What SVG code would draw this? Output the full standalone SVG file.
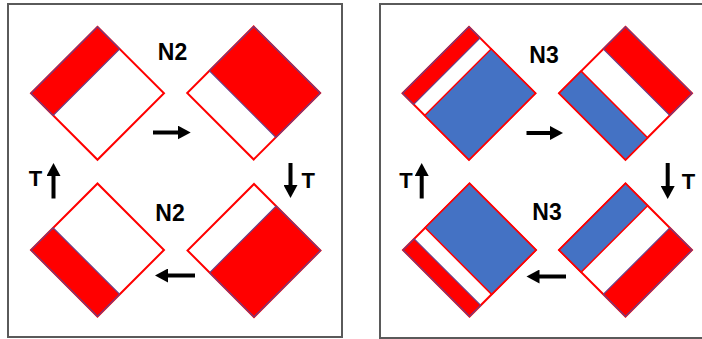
<svg xmlns="http://www.w3.org/2000/svg" width="702" height="339" viewBox="0 0 702 339">
<style>
.frame{fill:#fff;stroke:#5a5a5a;stroke-width:2}
.w{fill:#fff;stroke:#ff0000;stroke-width:2}
.r{fill:#ff0000;stroke:#6b3f86;stroke-width:1.2}
.b{fill:#4472c4;stroke:#ff0000;stroke-width:1.5}
.lbl{font-family:"Liberation Sans",Arial,sans-serif;font-weight:bold;fill:#000;text-anchor:middle}
.arr{stroke:#000;stroke-width:4;fill:none;marker-end:url(#ah)}
</style>
<defs>
<marker id="ah" markerUnits="userSpaceOnUse" markerWidth="14" markerHeight="14" refX="5" refY="7" orient="auto"><path d="M0,0 L13,7 L0,14 Z" fill="#000"/></marker>
</defs>
<rect width="702" height="339" fill="#fff"/>
<rect id="panel-left" class="frame" x="8" y="4" width="334" height="333"/>
<rect id="panel-right" class="frame" x="380" y="4" width="330" height="334"/>

<g id="d1" transform="translate(97.5,93.3) rotate(45)">
<rect class="w" x="-47" y="-47" width="94" height="94"/>
<rect class="r" x="-47" y="-47" width="31.3" height="94"/>
</g>
<g id="d2" transform="translate(253.7,93) rotate(45)">
<rect class="w" x="-47" y="-47" width="94" height="94"/>
<rect class="r" x="-47" y="-47" width="94" height="62.7"/>
</g>
<g id="d3" transform="translate(97.5,250) rotate(45)">
<rect class="w" x="-47" y="-47" width="94" height="94"/>
<rect class="r" x="-47" y="15.7" width="94" height="31.3"/>
</g>
<g id="d4" transform="translate(254,250.5) rotate(45)">
<rect class="w" x="-47" y="-47" width="94" height="94"/>
<rect class="r" x="-15.7" y="-47" width="62.7" height="94"/>
</g>
<g id="d5" transform="translate(469,93.3) rotate(45)">
<rect class="w" x="-47" y="-47" width="94" height="94"/>
<rect class="r" x="-47" y="-47" width="15.7" height="94"/>
<rect class="b" x="-15.7" y="-47" width="62.7" height="94"/>
</g>
<g id="d6" transform="translate(625.5,93.3) rotate(45)">
<rect class="w" x="-47" y="-47" width="94" height="94"/>
<rect class="r" x="-47" y="-47" width="94" height="31.3"/>
<rect class="b" x="-47" y="15.7" width="94" height="31.3"/>
</g>
<g id="d7" transform="translate(469.5,250) rotate(45)">
<rect class="w" x="-47" y="-47" width="94" height="94"/>
<rect class="r" x="-47" y="31.3" width="94" height="15.7"/>
<rect class="b" x="-47" y="-47" width="94" height="62.7"/>
</g>
<g id="d8" transform="translate(625.5,250) rotate(45)">
<rect class="w" x="-47" y="-47" width="94" height="94"/>
<rect class="b" x="-47" y="-47" width="31.3" height="94"/>
<rect class="r" x="15.7" y="-47" width="31.3" height="94"/>
</g>

<g id="connectors">
<line class="arr" x1="153" y1="132.5" x2="182.7" y2="132.5"/>
<line class="arr" x1="290.5" y1="163" x2="290.5" y2="190"/>
<line class="arr" x1="195" y1="275.5" x2="163" y2="275.5"/>
<line class="arr" x1="53.5" y1="198.5" x2="53.5" y2="171"/>
<line class="arr" x1="526.5" y1="133" x2="555" y2="133"/>
<line class="arr" x1="667.7" y1="163" x2="667.7" y2="191"/>
<line class="arr" x1="566" y1="276.5" x2="534.5" y2="276.5"/>
<line class="arr" x1="421.7" y1="198.5" x2="421.7" y2="171"/>
</g>

<g id="labels">
<text class="lbl" x="172.5" y="60" font-size="23">N2</text>
<text class="lbl" x="170" y="221" font-size="23">N2</text>
<text class="lbl" x="544" y="62.5" font-size="23">N3</text>
<text class="lbl" x="547" y="220" font-size="23">N3</text>
<text class="lbl" x="35.5" y="186" font-size="22">T</text>
<text class="lbl" x="308.3" y="188" font-size="22">T</text>
<text class="lbl" x="406" y="188" font-size="22">T</text>
<text class="lbl" x="688.5" y="189" font-size="22">T</text>
</g>
</svg>
